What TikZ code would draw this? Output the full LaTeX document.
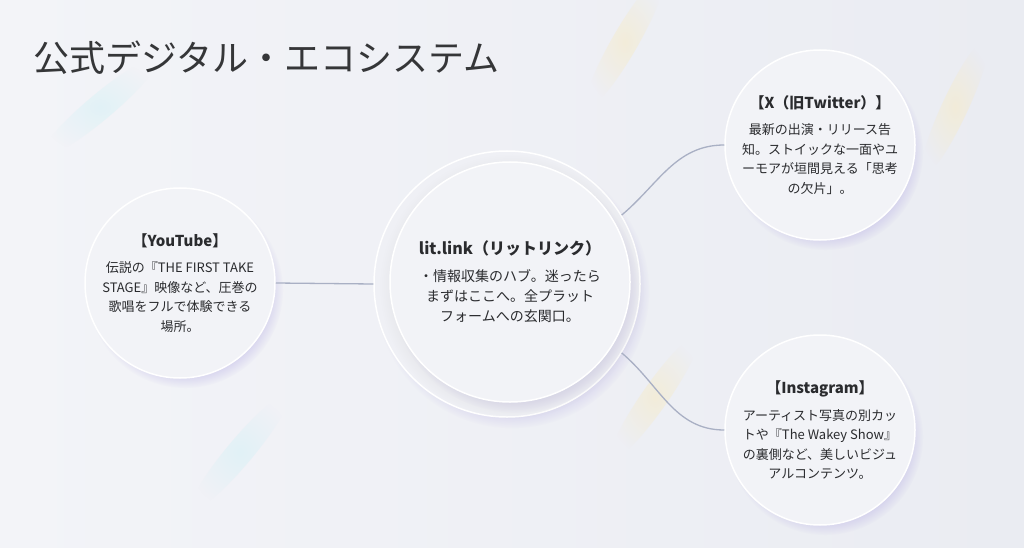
\documentclass[tikz,border=0pt]{standalone}
\usepackage{fontspec}
\setmainfont{Noto Sans CJK JP}
\usetikzlibrary{shadows,fadings}

\definecolor{bgLight}{HTML}{F3F4F8}
\definecolor{bgBlue}{HTML}{EAECF2}
\definecolor{bubbleFill}{HTML}{F2F3F7}
\definecolor{inkGray}{HTML}{2A2B2E}
\definecolor{linkGray}{HTML}{A9B0C4}
\definecolor{glowViolet}{HTML}{BDB6E6}
\definecolor{glowAmber}{HTML}{F6EBC8}
\definecolor{glowCyan}{HTML}{D6F1F6}
\tikzfading[name=softGlow, inner color=transparent!40, outer color=transparent!100]

\newcommand{\bubblehead}[2][15]{{\fontsize{#1}{20}\selectfont\bfseries #2}\\[7pt]}

\begin{document}
\begin{tikzpicture}
[x=1pt,y=1pt,
  bubbleDecorate/.style={shape=circle,minimum size=190pt,inner sep=0pt,
    draw=white,line width=1.5pt,fill=bubbleFill,
    text=inkGray,align=center,font=\fontsize{13}{19.5}\selectfont,
    circular drop shadow={shadow xshift=5pt,shadow yshift=-7pt,
      shadow scale=1.03,fill=glowViolet,opacity=0.55}},
  linkDecorate/.style={-,line width=1.3pt,draw=linkGray}]
\useasboundingbox (0,0) rectangle (1024,547);
\shade[left color=bgLight,right color=bgBlue] (0,0) rectangle (1024,547);
%% faint light streaks
\foreach \x/\y/\a/\c in {625/505/60/glowAmber, 240/95/50/glowCyan,
  655/150/55/glowAmber, 100/440/40/glowCyan, 955/440/65/glowAmber}
{
  \fill[\c,path fading=softGlow,rotate around={\a:(\x,\y)}]
    (\x,\y) ellipse (75 and 13);
}
%% title
\node (title) at (30,489) [anchor=west,text=inkGray!95,
  font=\fontsize{36}{40}\selectfont] {公式デジタル・エコシステム};
%% hub
\node (hub) at (507,263) [bubbleDecorate,minimum size=266pt,fill=bubbleFill!60!bgBlue] {};
\node (hubcore) at (510,265) [bubbleDecorate,minimum size=240pt,
  font=\fontsize{14}{20}\selectfont,
  circular drop shadow={shadow xshift=2pt,shadow yshift=-4pt,fill=black!20,opacity=0.3}]
  {\bubblehead[16]{lit.link（リットリンク）}・情報収集のハブ。迷ったら\\
   まずはここへ。全プラット\\フォームへの玄関口。};
%% satellite bubbles
\foreach \nodename/\x/\y/\body in {
  yt/180/264/{\bubblehead{【YouTube】}伝説の『THE FIRST TAKE\\STAGE』映像など、圧巻の\\歌唱をフルで体験できる\\場所。},
  tw/820/402/{\bubblehead{【X（旧Twitter）】}最新の出演・リリース告\\知。ストイックな一面やユ\\ーモアが垣間見える「思考\\の欠片」。},
  ig/820/117/{\bubblehead{【Instagram】}アーティスト写真の別カッ\\トや『The Wakey Show』\\の裏側など、美しいビジュ\\アルコンテンツ。}}
{
  \node (\nodename) at (\x,\y) [bubbleDecorate] {\body};
}
%% links
\draw[linkDecorate] (yt.east) -- (hub.west);
\draw[linkDecorate] (hub.31) to[out=40,in=180] (tw.west);
\draw[linkDecorate] (hub.-31) to[out=-40,in=180] (ig.west);
\end{tikzpicture}
\end{document}
